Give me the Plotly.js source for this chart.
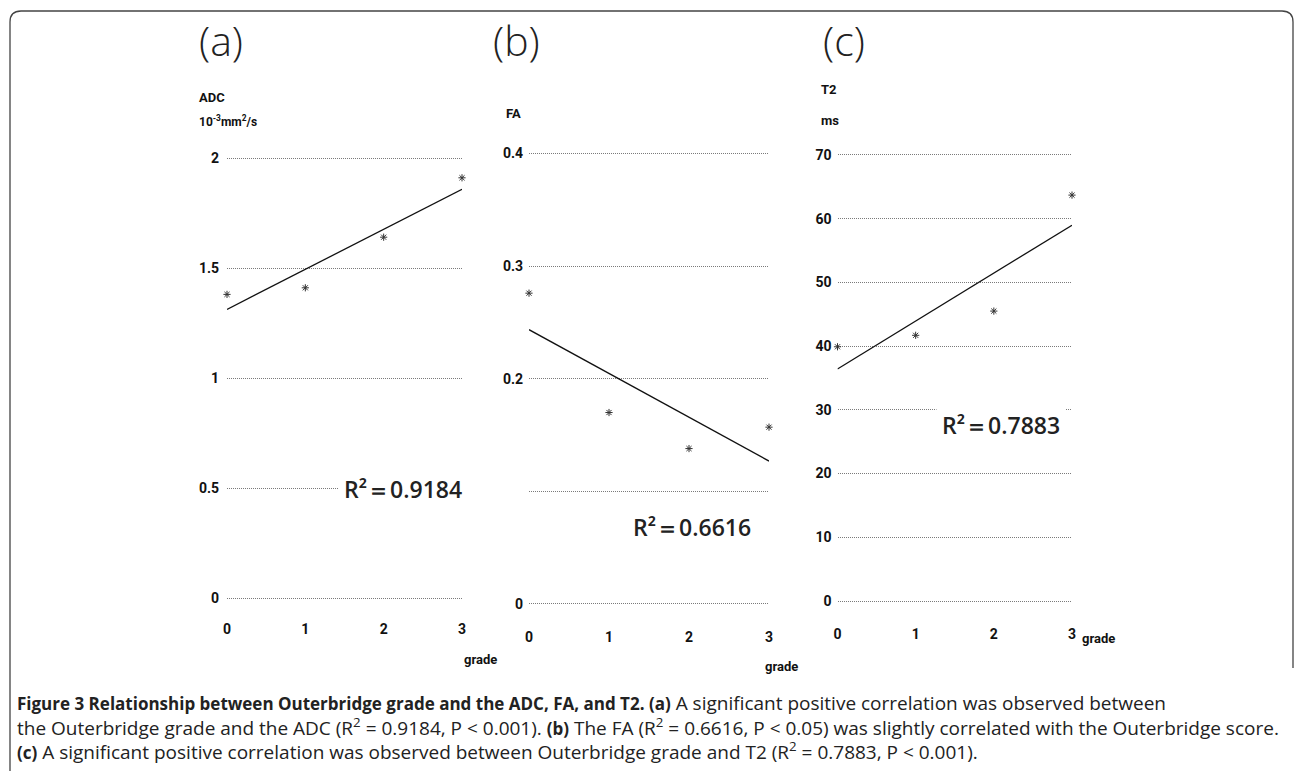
<!DOCTYPE html>
<html>
<head>
<meta charset="utf-8">
<script src="https://cdn.plot.ly/plotly-3.0.1.min.js"></script>
<style>html,body{margin:0;padding:0;background:#fff;}#chart{width:1297px;height:771px;}</style>
</head>
<body>
<div id="chart"></div>
<script>
// ---- data ----
const grades = [0, 1, 2, 3];
const gradeTickLabels = ['0', '1', '2', '3'];
const adcValues = [1.38, 1.41, 1.64, 1.91];
const faValues = [0.276, 0.170, 0.138, 0.157];
const t2Values = [39.9, 41.7, 45.5, 63.7];
const adcTicks = [0, 0.5, 1, 1.5, 2];
const adcTickLabels = ['0', '0.5', '1', '1.5', '2'];
const faTicks = [0, 0.1, 0.2, 0.3, 0.4];
const faTickLabels = ['0', '', '0.2', '0.3', '0.4'];
const t2Ticks = [0, 10, 20, 30, 40, 50, 60, 70];
const t2TickLabels = ['0', '10', '20', '30', '40', '50', '60', '70'];
const r2Labels = ['0.9184', '0.6616', '0.7883'];
const panelLabels = ['(a)', '(b)', '(c)'];
const B = s => '<b><span style="font-size:17px">' + s + '</span></b>';
const captionLines = [
  B('Figure 3 Relationship between Outerbridge grade and the ADC, FA, and T2. (a)') + ' A significant positive correlation was observed between',
  'the Outerbridge grade and the ADC (R<sup>2</sup> = 0.9184, P &lt; 0.001). ' + B('(b)') + ' The FA (R<sup>2</sup> = 0.6616, P &lt; 0.05) was slightly correlated with the Outerbridge score.',
  B('(c)') + ' A significant positive correlation was observed between Outerbridge grade and T2 (R<sup>2</sup> = 0.7883, P &lt; 0.001).'
];

// least-squares trend line from the data
function fit(xs, ys) {
  const n = xs.length;
  const mx = xs.reduce((a, b) => a + b, 0) / n;
  const my = ys.reduce((a, b) => a + b, 0) / n;
  let sxy = 0, sxx = 0;
  for (let i = 0; i < n; i++) { sxy += (xs[i] - mx) * (ys[i] - my); sxx += (xs[i] - mx) ** 2; }
  const b = sxy / sxx, a = my - b * mx;
  const x0 = xs[0], x1 = xs[n - 1];
  return { x: [x0, x1], y: [a + b * x0, a + b * x1] };
}

const W = 1297, H = 771;
const px = x => x / W;
const py = y => 1 - y / H;

const narrow = '"Liberation Sans Narrow", "Roboto", "Liberation Sans", sans-serif';
const tickFont = { family: narrow, size: 14, color: '#111', weight: 'bold' };
const labelFont = { family: narrow, size: 13, color: '#111', weight: 'bold' };

const marker = { symbol: 'asterisk-open', size: 6, color: '#333', line: { color: '#333', width: 1 } };
const lineStyle = { color: '#111', width: 1.3 };

const sets = [
  { vals: adcValues, xa: 'x', ya: 'y' },
  { vals: faValues, xa: 'x2', ya: 'y2' },
  { vals: t2Values, xa: 'x3', ya: 'y3' }
];
const traces = [];
sets.forEach(s => {
  const f = fit(grades, s.vals);
  traces.push({ x: f.x, y: f.y, xaxis: s.xa, yaxis: s.ya, mode: 'lines', line: lineStyle, hoverinfo: 'skip', showlegend: false });
  traces.push({ x: grades, y: s.vals, xaxis: s.xa, yaxis: s.ya, mode: 'markers', marker: marker, cliponaxis: false, showlegend: false });
});

function xAxis(l, r, standoff) {
  return { domain: [px(l), px(r)], range: [0, 3], tickvals: grades, ticktext: gradeTickLabels,
    showgrid: false, zeroline: false, showline: false, ticks: '', tickfont: tickFont,
    ticklabelstandoff: standoff, fixedrange: true };
}
function yAxis(top, bottom, range, tv, tt, anchor, standoff) {
  return { domain: [py(bottom), py(top)], range: range, tickvals: tv, ticktext: tt, anchor: anchor,
    showgrid: true, gridcolor: '#7a7a7a', gridwidth: 1, griddash: '1px,1px', zeroline: false, showline: false,
    ticks: '', tickfont: tickFont, ticklabelstandoff: standoff, fixedrange: true };
}

const layout = {
  width: W, height: H,
  margin: { l: 0, r: 0, t: 0, b: 0 },
  paper_bgcolor: '#fff', plot_bgcolor: 'rgba(0,0,0,0)',
  showlegend: false,
  xaxis: xAxis(227, 462, 10),
  yaxis: yAxis(147, 609, [-0.05, 2.05], adcTicks, adcTickLabels, 'x', 7),
  xaxis2: Object.assign(xAxis(529, 769, 17), { anchor: 'y2' }),
  yaxis2: yAxis(147.9, 609.6, [-0.005, 0.405], faTicks, faTickLabels, 'x2', 5),
  xaxis3: Object.assign(xAxis(837.5, 1072, 17), { anchor: 'y3' }),
  yaxis3: yAxis(148.6, 607.4, [-1, 71], t2Ticks, t2TickLabels, 'x3', 5),
  shapes: [{
    type: 'path', xref: 'paper', yref: 'paper',
    path: 'M ' + px(10) + ',' + py(771) + ' L ' + px(10) + ',' + py(22) +
      ' Q ' + px(10) + ',' + py(11) + ' ' + px(21) + ',' + py(11) +
      ' L ' + px(1282) + ',' + py(11) +
      ' Q ' + px(1293) + ',' + py(11) + ' ' + px(1293) + ',' + py(22) +
      ' L ' + px(1293) + ',' + py(668),
    line: { color: '#444', width: 1.3 }
  }],
  annotations: []
};

const ann = layout.annotations;
function txt(x, y, text, font, xanchor, extra) {
  ann.push(Object.assign({ xref: 'paper', yref: 'paper', x: px(x), y: py(y), text: text, showarrow: false,
    xanchor: xanchor || 'center', yanchor: 'middle', font: font }, extra || {}));
}
const panelFont = { family: '"Open Sans", "Liberation Sans", sans-serif', size: 41, color: '#222', weight: 300 };
txt(221, 40, panelLabels[0], panelFont);
txt(516, 40, panelLabels[1], panelFont);
txt(844, 40, panelLabels[2], panelFont);

txt(197, 97, 'ADC', labelFont, 'left');
txt(197, 121, '10<sup>-3</sup>mm<sup>2</sup>/s', Object.assign({}, labelFont, { size: 12 }), 'left');
txt(504, 113, 'FA', labelFont, 'left');
txt(819, 89, 'T2', labelFont, 'left');
txt(819, 120, 'ms', labelFont, 'left');
txt(480, 659, 'grade', labelFont);
txt(781, 666, 'grade', labelFont);
txt(1098, 638, 'grade', labelFont);

const r2Font = { family: '"Open Sans", "Noto Sans", sans-serif', size: 23, color: '#222', weight: 600 };
const bg = { bgcolor: '#fff', borderpad: 5 };
txt(338, 489, 'R²＝' + r2Labels[0], r2Font, 'left', bg);
txt(627, 527, 'R²＝' + r2Labels[1], r2Font, 'left', bg);
txt(936, 425, 'R²＝' + r2Labels[2], r2Font, 'left', bg);

const capFont = { family: '"Open Sans", "Noto Sans", sans-serif', size: 19, color: '#222' };
txt(15, 727, captionLines.join('<br>'), capFont, 'left', { align: 'left' });

Plotly.newPlot('chart', traces, layout, { staticPlot: true });
</script>
</body>
</html>
